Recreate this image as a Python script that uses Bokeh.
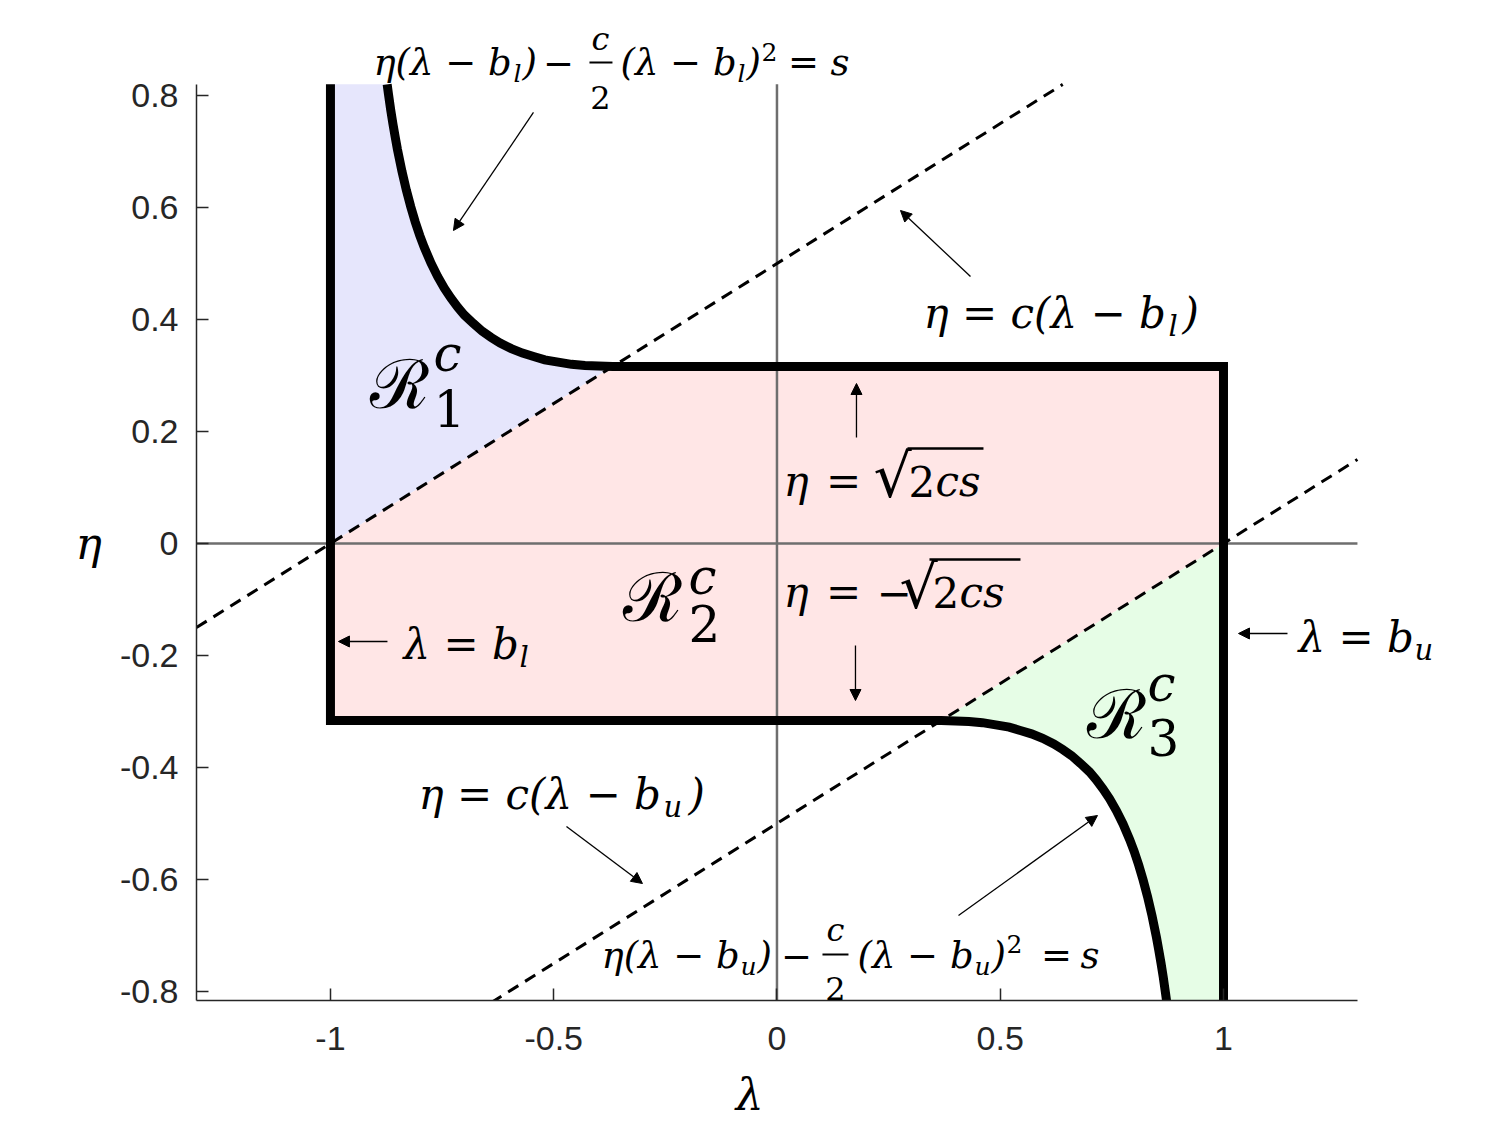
from bokeh.plotting import figure
from bokeh.models import Range1d, FixedTicker, Label, Arrow, NormalHead
from bokeh.embed import file_html
from bokeh.resources import INLINE

# ---------------- data ----------------
b_l = -1.0
b_u = 1.0
eta_top = 0.316      # eta = sqrt(2cs)
eta_bot = -0.316     # eta = -sqrt(2cs)
lam_hi_join = -0.368  # where upper curve meets eta_top
lam_lo_join = 0.368   # where lower curve meets eta_bot
axis_x = [-1.3, 1.3]
axis_y = [-0.8162, 0.82]

# upper curve  eta(l-b_l) - c/2 (l-b_l)^2 = s
up_lam = [-0.873, -0.87, -0.865, -0.86, -0.855, -0.85, -0.84, -0.83, -0.82, -0.81,
          -0.80, -0.79, -0.775, -0.76, -0.745, -0.73, -0.715, -0.70, -0.68, -0.66,
          -0.64, -0.62, -0.595, -0.57, -0.545, -0.52, -0.49, -0.46, -0.43, -0.40, -0.368]
up_eta = [0.820, 0.802, 0.774, 0.749, 0.726, 0.704, 0.665, 0.631, 0.601, 0.574,
          0.550, 0.529, 0.501, 0.477, 0.456, 0.438, 0.422, 0.408, 0.393, 0.379,
          0.368, 0.358, 0.348, 0.340, 0.334, 0.328, 0.324, 0.320, 0.318, 0.317, 0.316]
# lower curve  eta(l-b_u) - c/2 (l-b_u)^2 = s
lo_lam = [0.368, 0.40, 0.43, 0.46, 0.49, 0.52, 0.545, 0.57, 0.595, 0.62, 0.64,
          0.66, 0.68, 0.70, 0.715, 0.73, 0.745, 0.76, 0.775, 0.79, 0.80,
          0.81, 0.82, 0.83, 0.84, 0.85, 0.855, 0.86, 0.865, 0.87, 0.875]
lo_eta = [-0.316, -0.317, -0.318, -0.320, -0.324, -0.328, -0.334, -0.340, -0.348, -0.358, -0.368,
          -0.379, -0.393, -0.408, -0.422, -0.438, -0.456, -0.477, -0.501, -0.529, -0.550,
          -0.574, -0.601, -0.631, -0.665, -0.704, -0.726, -0.749, -0.774, -0.802, -0.831]

# dashed lines eta = c(l-b_l), eta = c(l-b_u)
dash1_lam = [-1.3, 0.64]
dash1_eta = [-0.15, 0.82]
dash2_lam = [-0.64, 1.3]
dash2_eta = [-0.82, 0.15]

x_ticks = [-1, -0.5, 0, 0.5, 1]
x_tick_labels = ["-1", "-0.5", "0", "0.5", "1"]
y_ticks = [-0.8, -0.6, -0.4, -0.2, 0, 0.2, 0.4, 0.6, 0.8]
y_tick_labels = ["-0.8", "-0.6", "-0.4", "-0.2", "0", "0.2", "0.4", "0.6", "0.8"]

# ---------------- figure ----------------
p = figure(width=1490, height=1129, x_range=Range1d(-1.3, 1.5532), y_range=Range1d(-0.8162, 0.9412),
           output_backend="svg", toolbar_location=None, title=None,
           min_border_left=196, min_border_right=20, min_border_top=16, min_border_bottom=129)
p.grid.visible = False
p.outline_line_color = None
p.background_fill_color = "white"
p.border_fill_color = "white"

AX = "#262626"
for ax in (p.xaxis[0], p.yaxis[0]):
    ax.axis_line_color = AX
    ax.axis_line_width = 1.5
    ax.major_tick_line_color = AX
    ax.major_tick_line_width = 1.5
    ax.major_tick_in = 12
    ax.major_tick_out = 0
    ax.minor_tick_in = 0
    ax.minor_tick_out = 0
    ax.major_label_text_font = "Liberation Sans"
    ax.major_label_text_font_size = "34px"
    ax.major_label_text_color = AX
    ax.axis_label_text_font = "DejaVu Serif"
    ax.axis_label_text_font_style = "italic"
    ax.axis_label_text_font_size = "44px"
    ax.axis_label_text_color = "black"
p.xaxis.bounds = (axis_x[0], axis_x[1])
p.yaxis.bounds = (axis_y[0], axis_y[1])
p.xaxis.ticker = FixedTicker(ticks=x_ticks)
p.yaxis.ticker = FixedTicker(ticks=y_ticks)
p.xaxis.major_label_overrides = {float(t): s for t, s in zip(x_ticks, x_tick_labels)}
p.yaxis.major_label_overrides = {float(t): s for t, s in zip(y_ticks, y_tick_labels)}
p.xaxis.major_label_standoff = 26
p.yaxis.major_label_standoff = 18
p.xaxis.axis_label = "λ" + "\u00a0" * 12
p.xaxis.axis_label_standoff = 16
p.yaxis.axis_label = "\u00a0\nη"
p.yaxis.axis_label_text_line_height = 1.36
p.yaxis.axis_label_orientation = "horizontal"
p.yaxis.axis_label_standoff = 15

# ---------------- regions ----------------
blue_x = [b_l, b_l] + up_lam
blue_y = [0.0, up_eta[0]] + up_eta
pink_x = [b_l, lam_hi_join, b_u, b_u, lam_lo_join, b_l]
pink_y = [0.0, eta_top, eta_top, 0.0, eta_bot, eta_bot]
green_x = [b_u, b_u] + lo_lam[::-1]
green_y = [0.0, lo_eta[-1]] + lo_eta[::-1]

p.patch(blue_x, blue_y, fill_color="#e6e6fc", line_color=None)
p.patch(pink_x, pink_y, fill_color="#ffe6e6", line_color=None)
p.patch(green_x, green_y, fill_color="#e6fde6", line_color=None)

# zero lines
p.line(axis_x, [0, 0], line_color="#6e6e6e", line_width=2.5)
p.line([0, 0], axis_y, line_color="#6e6e6e", line_width=2.5)

# dashed lines
p.line(dash1_lam, dash1_eta, line_color="black", line_width=3, line_dash="12 8")
p.line(dash2_lam, dash2_eta, line_color="black", line_width=3, line_dash="12 8")

# thick boundaries
left_x = [b_l, b_l] + lo_lam
left_y = [axis_y[1], eta_bot] + lo_eta
right_x = up_lam + [b_u, b_u]
right_y = up_eta + [eta_top, -0.84]
p.line(left_x, left_y, line_color="black", line_width=9, line_join="miter")
p.line(right_x, right_y, line_color="black", line_width=9, line_join="miter")

# ---------------- annotations ----------------
MATH = "DejaVu Serif"
BASE_SHIFT = 0.27   # renderer puts the alphabetic baseline about this many ems low

def X(px):
    return (px - 776.5) / 446.5

def Y(py):
    return (543.0 - py) / 559.9

def T(s, px, py, size, style="italic", align="left", font=MATH):
    p.add_layout(Label(x=X(px), y=Y(py - BASE_SHIFT * size), text=s, text_font=font,
                       text_font_size=f"{size}px", text_font_style=style, text_align=align,
                       text_baseline="alphabetic", text_color="black"))

def bar(x0, x1, py, w=2):
    p.add_layout(Arrow(x_start=X(x0), y_start=Y(py), x_end=X(x1), y_end=Y(py),
                       start=None, end=None, line_color="black", line_width=w))

def arrow(x0, y0, x1, y1):
    p.add_layout(Arrow(x_start=X(x0), y_start=Y(y0), x_end=X(x1), y_end=Y(y1),
                       end=NormalHead(size=11, fill_color="black", line_color="black", line_width=1),
                       line_color="black", line_width=1.3))

# top formula
T("η(λ − b", 373, 72, 37)
T("l", 513, 80, 25)
T(")", 522, 72, 37)
T("−", 558, 72, 37, style="normal", align="center")
T("c", 600, 47, 32, align="center")
bar(589, 612, 62)
T("2", 600, 106, 32, style="normal", align="center")
T("(λ − b", 620, 72, 37)
T("l", 737, 80, 25)
T(")", 746, 72, 37)
T("2", 761, 58, 25, style="normal")
T("=", 803, 72, 37, style="normal", align="center")
T("s", 830, 72, 37)
arrow(533, 112, 453, 230)

# eta = c(lambda - b_l)
T("η = c(λ − b", 923, 324, 42)
T("l", 1168, 333, 29)
T(")", 1182, 324, 42)
arrow(970, 276, 900, 210)

# region labels
T("ℛ", 370, 402, 68, style="normal")
T("c", 433, 367, 50)
T("1", 433, 422, 50, style="normal")
T("ℛ", 623, 615, 68, style="normal")
T("c", 688, 590, 50)
T("2", 688, 637, 50, style="normal")
T("ℛ", 1087, 732, 68, style="normal")
T("c", 1147, 697, 50)
T("3", 1147, 750, 50, style="normal")

# eta = +/- sqrt(2cs)
arrow(856, 437, 856, 383)
T("η", 783, 492, 42)
T("=", 843, 492, 42, style="normal", align="center")
T("√", 873, 492, 60, style="normal")
T("2", 908, 492, 42, style="normal")
T("cs", 935, 492, 42)
bar(907, 983, 448, 2.5)
T("η", 783, 603, 42)
T("=", 843, 603, 42, style="normal", align="center")
T("−", 876, 603, 42, style="normal")
T("√", 899, 603, 60, style="normal")
T("2", 932, 603, 42, style="normal")
T("cs", 959, 603, 42)
bar(929, 1020, 559, 2.5)
arrow(855, 645, 855, 700)

# lambda = b_l, lambda = b_u
arrow(387, 641, 338, 641)
T("λ = b", 403, 655, 42)
T("l", 519, 664, 29)
arrow(1287, 633, 1238, 633)
T("λ = b", 1298, 648, 42)
T("u", 1414, 657, 29)

# eta = c(lambda - b_u)
T("η = c(λ − b", 418, 805, 42)
T("u", 663, 814, 29)
T(")", 688, 805, 42)
arrow(566, 826, 642, 883)

# bottom formula
T("η(λ − b", 601, 965, 37)
T("u", 740, 973, 25)
T(")", 757, 965, 37)
T("−", 796, 965, 37, style="normal", align="center")
T("c", 835, 938, 32, align="center")
bar(822, 848, 954)
T("2", 835, 997, 32, style="normal", align="center")
T("(λ − b", 857, 965, 37)
T("u", 974, 973, 25)
T(")", 991, 965, 37)
T("2", 1006, 950, 25, style="normal")
T("=", 1056, 965, 37, style="normal", align="center")
T("s", 1080, 965, 37)
arrow(958, 915, 1097, 815)

open("out.html", "w").write(file_html(p, INLINE))
